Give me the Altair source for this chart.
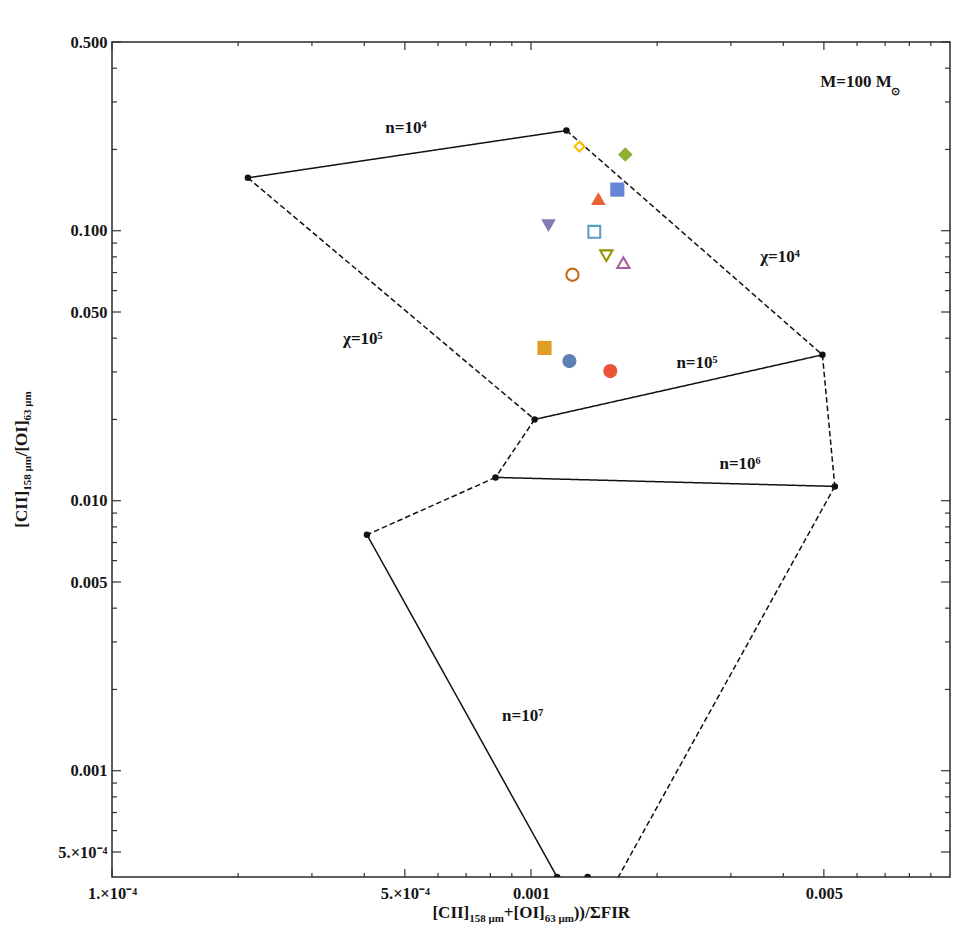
import altair as alt
import pandas as pd

# ---------------------------------------------------------------------------
# PDR grid for M = 100 Msun: x = ([CII]158 + [OI]63) / ΣFIR,  y = [CII]158 / [OI]63
# ---------------------------------------------------------------------------
vertex_names = ["A", "B", "C", "D", "E", "F", "G", "H", "I", "J"]
vertex_x = [2.11e-4, 1.215e-3, 4.96e-3, 1.02e-3, 8.23e-4, 5.31e-3, 4.06e-4, 1.154e-3, 1.365e-3, 1.616e-3]
vertex_y = [0.157, 0.235, 0.0347, 0.0200, 0.0122, 0.0113, 0.00748, 4.04e-4, 4.04e-4, 4.04e-4]
# J is only where a grid line leaves the frame, so it gets no dot
dot_names = ["A", "B", "C", "D", "E", "F", "G", "H", "I"]

# grid lines: constant density (solid) and constant field strength (dashed)
seg_from = ["A", "B", "A", "D", "D", "E", "C", "E", "G", "F"]
seg_to = ["B", "C", "D", "C", "E", "F", "F", "G", "H", "J"]
seg_style = ["solid", "dashed", "dashed", "solid", "dashed", "solid", "dashed", "dashed", "solid", "dashed"]

# observed sources
obs_x = [1.235e-3, 1.077e-3, 1.679e-3, 1.448e-3, 1.101e-3, 1.256e-3,
         1.416e-3, 1.305e-3, 1.661e-3, 1.513e-3, 1.546e-3, 1.607e-3]
obs_y = [0.0329, 0.0368, 0.1915, 0.1315, 0.1044, 0.0687,
         0.0991, 0.205, 0.0761, 0.0808, 0.0302, 0.142]
obs_shape = ["circle", "square", "diamond", "triangle-up", "triangle-down", "circle",
             "square", "diamond", "triangle-up", "triangle-down", "circle", "square"]
obs_filled = [True, True, True, True, True, False, False, False, False, False, True, True]
obs_color = ["#5E81B5", "#E19C24", "#8FB032", "#EB6235", "#8778B3", "#C56E1A",
             "#5D9EC7", "#FFBF00", "#A5609D", "#929600", "#E95536", "#6685D9"]

# grid annotations
ann_text = ["n=10⁴", "χ=10⁴", "χ=10⁵", "n=10⁵", "n=10⁶", "n=10⁷"]
ann_x = [5.03e-4, 3.93e-3, 3.97e-4, 2.49e-3, 3.155e-3, 9.55e-4]
ann_y = [0.241, 0.080, 0.0397, 0.0324, 0.01365, 0.0016]
mass_text = "M=100 M"
mass_sub = "⊙"
mass_x = [4.90e-3]
mass_y = [0.354]

# axes
x_domain = [1e-4, 1e-2]
y_domain = [4.04e-4, 0.5]
x_major = [1e-4, 5e-4, 1e-3, 5e-3]
x_major_labels = ["1.×10⁻⁴", "5.×10⁻⁴", "0.001", "0.005"]
x_minor = [2e-4, 3e-4, 4e-4, 6e-4, 7e-4, 8e-4, 9e-4, 2e-3, 3e-3, 4e-3, 6e-3, 7e-3, 8e-3, 9e-3]
y_major = [0.5, 0.1, 0.05, 0.01, 0.005, 0.001, 5e-4]
y_major_labels = ["0.500", "0.100", "0.050", "0.010", "0.005", "0.001", "5.×10⁻⁴"]
y_minor = [0.4, 0.3, 0.2, 0.09, 0.08, 0.07, 0.06, 0.04, 0.03, 0.02,
           0.009, 0.008, 0.007, 0.006, 0.004, 0.003, 0.002, 9e-4, 8e-4, 7e-4, 6e-4]

x_title_parts = [("[CII]", False), ("158 μm", True), ("+[OI]", False), ("63 μm", True), ("))/ΣFIR", False)]
y_title_parts = [("[CII]", False), ("158 μm", True), ("/[OI]", False), ("63 μm", True)]

# ---------------------------------------------------------------------------
W, H = 838, 835
FONT = "Liberation Serif"
INK = "#151515"
MAIN_SIZE, SUB_SIZE = 17, 11


def label_expr(values, labels):
    expr = "''"
    for v, lab in reversed(list(zip(values, labels))):
        expr = f"abs(datum.value / {v!r} - 1) < 0.001 ? '{lab}' : ({expr})"
    return expr


axis_common = dict(ticks=False, domain=False, grid=False, title=None,
                   labelFont=FONT, labelFontWeight="bold", labelFontSize=16.5,
                   labelColor=INK, labelFlush=False, labelOverlap=False)
x_axis = alt.Axis(values=x_major, labelExpr=label_expr(x_major, x_major_labels),
                  labelPadding=8, **axis_common)
y_axis = alt.Axis(values=y_major, labelExpr=label_expr(y_major, y_major_labels),
                  labelPadding=5, **axis_common)
x_scale = alt.Scale(type="log", domain=x_domain, nice=False)
y_scale = alt.Scale(type="log", domain=y_domain, nice=False)


def X(field):
    return alt.X(f"{field}:Q", scale=x_scale, axis=x_axis)


def Y(field):
    return alt.Y(f"{field}:Q", scale=y_scale, axis=y_axis)


vx = dict(zip(vertex_names, vertex_x))
vy = dict(zip(vertex_names, vertex_y))

rows = []
for i, (a, b, s) in enumerate(zip(seg_from, seg_to, seg_style)):
    rows.append({"seg": i, "ord": 0, "x": vx[a], "y": vy[a], "style": s})
    rows.append({"seg": i, "ord": 1, "x": vx[b], "y": vy[b], "style": s})
seg_df = pd.DataFrame(rows)

grid_lines = alt.Chart(seg_df).mark_line(color="#111", strokeWidth=1.5, clip=True).encode(
    x=X("x"), y=Y("y"), detail="seg:N", order="ord:Q",
    strokeDash=alt.StrokeDash("style:N", legend=None,
                              scale=alt.Scale(domain=["solid", "dashed"], range=[[1, 0], [5.5, 3]])),
)

dot_df = pd.DataFrame({"x": [vx[n] for n in dot_names], "y": [vy[n] for n in dot_names]})
grid_dots = alt.Chart(dot_df).mark_circle(color="#111", size=42, opacity=1, clip=True).encode(
    x=X("x"), y=Y("y"))

filled_size = {"circle": 200, "square": 200, "diamond": 215, "triangle-up": 215, "triangle-down": 215}
open_size = {"circle": 150, "square": 140, "diamond": 95, "triangle-up": 150, "triangle-down": 150}
obs_df = pd.DataFrame({"x": obs_x, "y": obs_y, "shape": obs_shape,
                       "filled": obs_filled, "color": obs_color})
obs_df["size"] = [filled_size[s] if f else open_size[s] for s, f in zip(obs_shape, obs_filled)]

obs_filled_layer = alt.Chart(obs_df[obs_df["filled"]]).mark_point(
    filled=True, opacity=1, strokeWidth=0).encode(
    x=X("x"), y=Y("y"),
    shape=alt.Shape("shape:N", scale=None),
    color=alt.Color("color:N", scale=None),
    size=alt.Size("size:Q", scale=None),
)
obs_open_layer = alt.Chart(obs_df[~obs_df["filled"]]).mark_point(
    filled=False, opacity=1, strokeWidth=2.1).encode(
    x=X("x"), y=Y("y"),
    shape=alt.Shape("shape:N", scale=None),
    color=alt.Color("color:N", scale=None),
    size=alt.Size("size:Q", scale=None),
)

ann_df = pd.DataFrame({"x": ann_x, "y": ann_y, "t": ann_text})
annotations = alt.Chart(ann_df).mark_text(
    font=FONT, fontWeight="bold", fontSize=MAIN_SIZE, color=INK, align="center", baseline="middle"
).encode(x=X("x"), y=Y("y"), text="t:N")

mass_df = pd.DataFrame({"x": mass_x, "y": mass_y, "t": [mass_text], "s": [mass_sub]})
mass_label = alt.Chart(mass_df).mark_text(
    font=FONT, fontWeight="bold", fontSize=MAIN_SIZE, color=INK, align="left", baseline="middle"
).encode(x=X("x"), y=Y("y"), text="t:N")
mass_subscript = alt.Chart(mass_df).mark_text(
    font=FONT, fontWeight="bold", fontSize=SUB_SIZE, color=INK, align="left", baseline="middle",
    dx=71, dy=10
).encode(x=X("x"), y=Y("y"), text="s:N")


# frame ticks, pointing inward on all four sides
def ticks(values, side, length):
    df = pd.DataFrame({"v": values})
    base = alt.Chart(df).mark_rule(color="#333", strokeWidth=1.2)
    if side == "bottom":
        return base.encode(x=X("v"), y=alt.value(H), y2=alt.value(H - length))
    if side == "top":
        return base.encode(x=X("v"), y=alt.value(0), y2=alt.value(length))
    if side == "left":
        return base.encode(y=Y("v"), x=alt.value(0), x2=alt.value(length))
    return base.encode(y=Y("v"), x=alt.value(W), x2=alt.value(W - length))


tick_layers = [
    ticks(x_major, "bottom", 8), ticks(x_minor, "bottom", 4),
    ticks(x_major, "top", 8), ticks(x_minor, "top", 4),
    ticks(y_major, "left", 9), ticks(y_minor, "left", 5),
    ticks(y_major, "right", 9), ticks(y_minor, "right", 5),
]

# axis titles with true subscripts, laid out piece by piece
CHAR_W = {"[": 333, "]": 333, "C": 722, "I": 389, "O": 778, "F": 611, "R": 722,
          "+": 570, "/": 278, ")": 333, " ": 250, "μ": 556, "m": 833, "Σ": 620}


def text_width(s, size):
    return sum(CHAR_W.get(c, 500) for c in s) * size / 1000.0


def piece(text, size, **enc):
    return alt.Chart(pd.DataFrame({"t": [text]})).mark_text(
        font=FONT, fontWeight="bold", fontSize=size, color=INK,
        align="left", baseline="middle", angle=enc.pop("angle", 0)
    ).encode(text="t:N", **enc)


title_layers = []
widths = [text_width(t, SUB_SIZE if sub else MAIN_SIZE) for t, sub in x_title_parts]
pos = W / 2 - sum(widths) / 2
for (t, sub), w in zip(x_title_parts, widths):
    title_layers.append(piece(t, SUB_SIZE if sub else MAIN_SIZE,
                              x=alt.value(pos), y=alt.value(H + 36 + (6 if sub else 0))))
    pos += w

widths = [text_width(t, SUB_SIZE if sub else MAIN_SIZE) for t, sub in y_title_parts]
pos = H / 2 + sum(widths) / 2
for (t, sub), w in zip(y_title_parts, widths):
    title_layers.append(piece(t, SUB_SIZE if sub else MAIN_SIZE, angle=270,
                              x=alt.value(-90 + (6 if sub else 0)), y=alt.value(pos)))
    pos -= w

chart = alt.layer(
    grid_lines, grid_dots, obs_open_layer, obs_filled_layer,
    annotations, mass_label, mass_subscript, *tick_layers, *title_layers
).properties(
    width=W, height=H,
    padding={"left": 112, "top": 42, "right": 15, "bottom": 66},
    autosize=alt.AutoSizeParams(type="none"),
    background="white",
).configure_view(stroke="#2a2a2a", strokeWidth=1.5)

chart.save("out.html", embed_options={"renderer": "svg", "actions": False})
